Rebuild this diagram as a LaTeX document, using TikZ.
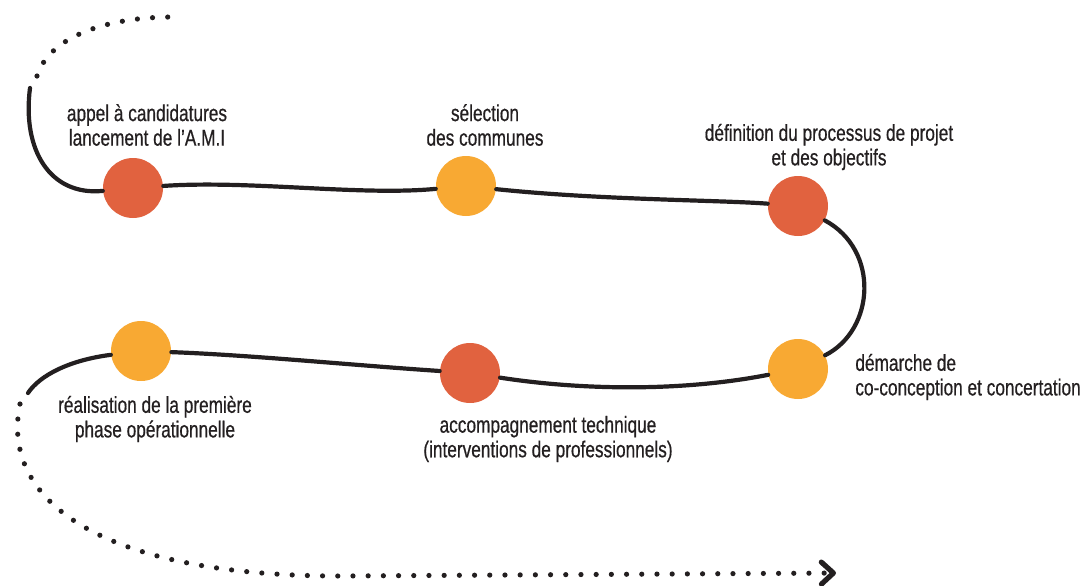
\documentclass[tikz,border=0pt]{standalone}
\usepackage{fontspec}
\setmainfont{Liberation Sans}[FakeStretch=0.75,FakeBold=0.6]
\usetikzlibrary{arrows.meta}
\definecolor{redstep}{HTML}{E1623F}
\definecolor{orangestep}{HTML}{F8A933}
\definecolor{ink}{HTML}{231F20}

\begin{document}
\begin{tikzpicture}[x=0.5pt,y=-0.5pt,
	stepdot/.style={shape=circle,minimum size=30pt,inner sep=0pt},
	lbl/.style={align=center,font=\fontsize{11.5}{12.3}\selectfont,text=ink,inner sep=0pt},
	road/.style={draw=ink,line width=2.1pt,line cap=round},
	dotroad/.style={draw=ink,line width=2.6pt,line cap=round,dash pattern=on 0pt off 7.6pt}]
	\useasboundingbox (0,0) rectangle (1088,585);

	\node[stepdot,fill=redstep]    (appel)          at (133,188) {};
	\node[stepdot,fill=orangestep] (selection)      at (466,186) {};
	\node[stepdot,fill=redstep]    (definition)     at (798,206) {};
	\node[stepdot,fill=orangestep] (demarche)       at (798,369) {};
	\node[stepdot,fill=redstep]    (accompagnement) at (470,373) {};
	\node[stepdot,fill=orangestep] (realisation)    at (141,351) {};

	\node[lbl] (appel txt)          at (147,125) {appel à candidatures\\lancement de l’A.M.I};
	\node[lbl] (selection txt)      at (485,125) {sélection\\des communes};
	\node[lbl] (definition txt)     at (829,147) {définition du processus de projet\\et des objectifs};
	\node[lbl,anchor=west,align=left] (demarche txt) at (855,377) {démarche de\\co-conception et concertation};
	\node[lbl] (accompagnement txt) at (548,439) {accompagnement technique\\(interventions de professionnels)};
	\node[lbl] (realisation txt)    at (155,419) {réalisation de la première\\phase opérationnelle};

	\coordinate (start) at (30,88);
	\coordinate (stop)  at (28,393);
	\coordinate (top a) at (37,76);
	\coordinate (top b) at (173,17);
	\coordinate (bot a) at (20,404);
	\coordinate (bot b) at (340,576);
	\coordinate (bot c) at (836,573);

	\path[road] (start) .. controls (22,150) and (50,196) .. (appel);
	\path[road] (appel) .. controls (250,180) and (360,196) .. (selection);
	\path[road] (selection) .. controls (600,200) and (720,200) .. (definition);
	\path[road] (definition) .. controls (880,250) and (875,330) .. (demarche);
	\path[road] (demarche) .. controls (680,392) and (580,390) .. (accompagnement);
	\path[road] (accompagnement) .. controls (350,365) and (250,355) .. (realisation);
	\path[road] (realisation) .. controls (70,360) and (40,375) .. (stop);

	\path[dotroad] (top a) .. controls (50,35) and (110,17) .. (top b);
	\path[dotroad,-{Straight Barb[round,length=6pt,width=11pt]}] (bot a) .. controls (0,500) and (100,576) .. (bot b) -- (bot c);

\end{tikzpicture}
\end{document}
